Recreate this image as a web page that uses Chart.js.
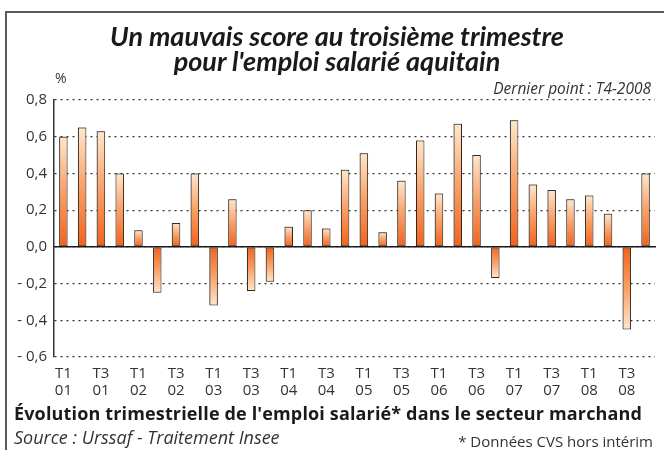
<!DOCTYPE html>
<html>
<head>
<meta charset="utf-8">
<script src="https://cdn.jsdelivr.net/npm/chart.js@4/dist/chart.umd.min.js"></script>
<style>
  html, body { margin: 0; padding: 0; background: #fff; }
  #wrap { position: relative; width: 664px; height: 450px; overflow: hidden; font-family: "Open Sans", Lato, sans-serif; color: #222; }
  #frame { position: absolute; left: 5px; top: 11px; width: 700px; height: 500px; border-top: 2px solid #5a5a5a; border-left: 2px solid #5a5a5a; }
  canvas { position: absolute; left: 0; top: 0; }
  .t { position: absolute; white-space: nowrap; }
  #title { left: 5px; width: 664px; top: 23px; text-align: center; font-family: Lato, sans-serif; font-weight: bold; font-style: italic; font-size: 27px; line-height: 25px; color: #1a1a1a; }
  #pct { left: 55px; top: 68px; font-size: 14px; color: #333; }
  #last { right: 13px; top: 77px; font-size: 15.5px; font-style: italic; color: #333; }
  #sub { left: 14px; top: 401px; font-size: 18px; letter-spacing: 0.15px; font-weight: bold; color: #1a1a1a; }
  #src { left: 14px; top: 425px; font-size: 18px; font-style: italic; color: #333; }
  #note { right: 11px; top: 431px; font-size: 15px; color: #333; }
</style>
</head>
<body>
<div id="wrap">
  <div id="frame"></div>
  <canvas id="c" width="664" height="450"></canvas>
  <div class="t" id="title">Un mauvais score au troisième trimestre<br>pour l'emploi salarié aquitain</div>
  <div class="t" id="pct">%</div>
  <div class="t" id="last">Dernier point : T4-2008</div>
  <div class="t" id="sub">Évolution trimestrielle de l'emploi salarié* dans le secteur marchand</div>
  <div class="t" id="src">Source : Urssaf - Traitement Insee</div>
  <div class="t" id="note">* Données CVS hors intérim</div>
</div>
<script>
const quarters = [
  ['T1','01'],['T2','01'],['T3','01'],['T4','01'],
  ['T1','02'],['T2','02'],['T3','02'],['T4','02'],
  ['T1','03'],['T2','03'],['T3','03'],['T4','03'],
  ['T1','04'],['T2','04'],['T3','04'],['T4','04'],
  ['T1','05'],['T2','05'],['T3','05'],['T4','05'],
  ['T1','06'],['T2','06'],['T3','06'],['T4','06'],
  ['T1','07'],['T2','07'],['T3','07'],['T4','07'],
  ['T1','08'],['T2','08'],['T3','08'],['T4','08']
];
const employmentChange = [
  0.60, 0.65, 0.63, 0.40,
  0.09, -0.25, 0.13, 0.40,
  -0.32, 0.26, -0.24, -0.19,
  0.11, 0.20, 0.10, 0.42,
  0.51, 0.08, 0.36, 0.58,
  0.29, 0.67, 0.50, -0.17,
  0.69, 0.34, 0.31, 0.26,
  0.28, 0.18, -0.45, 0.40
];
const yMin = -0.6, yMax = 0.8, yStep = 0.2;

function barGradient(context) {
  const chart = context.chart;
  if (!chart.chartArea || !chart.scales.y) return '#f7924a';
  const ys = chart.scales.y;
  const v = context.raw;
  const y0 = ys.getPixelForValue(0);
  const y1 = ys.getPixelForValue(v);
  if (Math.abs(y1 - y0) < 0.5) return '#f26a25';
  const g = chart.ctx.createLinearGradient(0, y0, 0, y1);
  g.addColorStop(0, '#f2621c');
  g.addColorStop(0.5, '#f9a066');
  g.addColorStop(1, '#ffe7cd');
  return g;
}

const shadowPlugin = {
  id: 'barShadow',
  beforeDatasetsDraw(chart) {
    const ctx = chart.ctx;
    ctx.save();
    ctx.shadowColor = 'rgba(60,60,60,0.45)';
    ctx.shadowOffsetX = -1;
    ctx.shadowOffsetY = -1;
    ctx.shadowBlur = 1;
  },
  afterDatasetsDraw(chart) {
    chart.ctx.restore();
  }
};

new Chart(document.getElementById('c'), {
  type: 'bar',
  data: {
    labels: quarters,
    datasets: [{
      data: employmentChange,
      backgroundColor: barGradient,
      borderColor: '#2e241c',
      borderWidth: 1,
      borderSkipped: false,
      barPercentage: 0.45,
      categoryPercentage: 1.0
    }]
  },
  plugins: [shadowPlugin],
  options: {
    responsive: false,
    animation: false,
    events: [],
    layout: { padding: { left: 4, right: 9, top: 100, bottom: 50 } },
    plugins: { legend: { display: false }, title: { display: false }, tooltip: { enabled: false } },
    scales: {
      x: {
        type: 'category',
        grid: { display: false, drawTicks: false },
        border: { display: false },
        afterFit: (s) => { s.height = 43; },
        ticks: {
          autoSkip: false,
          maxRotation: 0,
          minRotation: 0,
          padding: 8,
          color: '#333',
          font: { family: 'Open Sans', size: 15, lineHeight: 1.15 },
          callback: function (val, idx) { return idx % 2 === 0 ? this.getLabelForValue(val) : ''; }
        }
      },
      zero: {
        type: 'category',
        axis: 'x',
        labels: quarters,
        position: { y: 0 },
        grid: { display: false, drawTicks: false },
        ticks: { display: false },
        border: { display: true, color: '#1a1a1a', width: 1.5 }
      },
      y: {
        min: yMin,
        max: yMax,
        afterFit: (s) => { s.width = 50; },
        grid: { color: '#333', lineWidth: 1.2, drawTicks: false },
        border: { display: true, color: '#333', width: 1.5, dash: [2, 4] },
        ticks: {
          stepSize: yStep,
          padding: 7,
          color: '#333',
          font: { family: 'Open Sans', size: 15 },
          callback: (v) => {
            const s = Math.abs(v).toFixed(1).replace('.', ',');
            return v < -1e-9 ? '- ' + s : s;
          }
        }
      }
    }
  }
});
</script>
</body>
</html>
